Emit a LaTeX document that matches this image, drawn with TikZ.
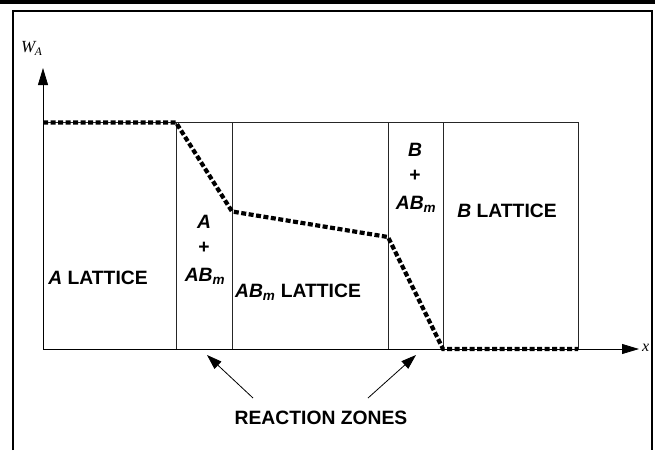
\documentclass[tikz,border=0pt]{standalone}
\usepackage{fontspec}
\setmainfont{Liberation Sans}
\newfontfamily\serifit{Liberation Serif}
\usetikzlibrary{arrows.meta}
\begin{document}
\begin{tikzpicture}[x=1pt,y=-1pt,
  zone/.style={draw=black!85,line width=0.8pt},
  curve/.style={line width=4.2pt,dash pattern=on 5pt off 2.5pt,black},
  lbl/.style={font=\fontsize{19.3}{21}\selectfont\bfseries,align=center,inner sep=0pt},
  axis/.style={line width=0.8pt,-{Triangle[length=17pt,width=10pt]}},
  pointer/.style={line width=0.8pt,-{Triangle[length=15pt,width=10pt]}}]
\useasboundingbox (0,0) rectangle (655,450);
% frame
\fill[black] (0,0) rectangle (655,3.5);
\draw[line width=1.3pt] (13,450) -- (13,11) -- (652,11) -- (652,450);
% zones
\draw[zone] (43,122.5) rectangle (176,349);
\draw[zone] (176,122.5) rectangle (232,349);
\draw[zone] (232,122.5) rectangle (388,349);
\draw[zone] (388,122.5) rectangle (443,349);
\draw[zone] (443,122.5) rectangle (578,349);
% axes
\coordinate (o) at (43,349);
\coordinate (ytip) at (43,68);
\coordinate (xtip) at (639,349);
\draw[axis] (o) -- (ytip);
\draw[axis] (o) -- (xtip);
\node[font=\serifit\itshape\fontsize{17}{19}\selectfont,anchor=base west,inner sep=0pt] (wa) at (21,52) {W\kern-0.5pt\raisebox{-3pt}{\fontsize{11.5}{12}\selectfont A}};
\node[font=\serifit\itshape\fontsize{16}{18}\selectfont,anchor=base west,inner sep=0pt] (xl) at (642,351) {x};
% curve
\coordinate (p1) at (43,122.5);
\coordinate (p2) at (176,122.5);
\coordinate (p3) at (232,211.5);
\coordinate (p4) at (388,237);
\coordinate (p5) at (443,349);
\coordinate (p6) at (578,349);
\draw[curve] (p1) -- (p2) -- (p3) -- (p4) -- (p5) -- (p6);
% labels
\node[lbl] (alat) at (98,278) {\itshape A\upshape\ LATTICE};
\node[lbl] (a1) at (204,222) {\itshape A};
\node[lbl] (a2) at (204,248) {+};
\node[lbl] (a3) at (205,276) {\itshape AB$_{\mbox{\fontsize{13.5}{14}\selectfont\bfseries\itshape m}}$};
\node[lbl] (ablat) at (298,292) {\itshape AB$_{\mbox{\fontsize{13.5}{14}\selectfont\bfseries\itshape m}}$\upshape\ LATTICE};
\node[lbl] (b1) at (415,150) {\itshape B};
\node[lbl] (b2) at (415,176) {+};
\node[lbl] (b3) at (416,204) {\itshape AB$_{\mbox{\fontsize{13.5}{14}\selectfont\bfseries\itshape m}}$};
\node[lbl] (blat) at (507,211) {\itshape B\upshape\ LATTICE};
\node[lbl] (rz) at (321,418) {REACTION ZONES};
% pointers
\coordinate (r1s) at (253,398);
\coordinate (r1e) at (207,355);
\coordinate (r2s) at (368,398);
\coordinate (r2e) at (416,355);
\draw[pointer] (r1s) -- (r1e);
\draw[pointer] (r2s) -- (r2e);
\end{tikzpicture}
\end{document}
